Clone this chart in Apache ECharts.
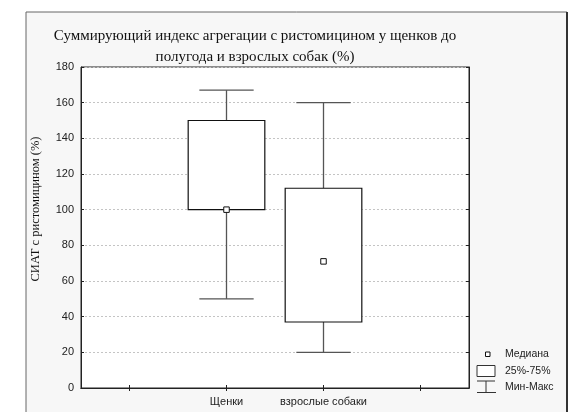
<!DOCTYPE html>
<html>
<head>
<meta charset="utf-8">
<script src="https://cdn.jsdelivr.net/npm/echarts@6/dist/echarts.min.js"></script>
<style>
  html, body { margin: 0; padding: 0; background: #fff; }
  #chart { width: 581px; height: 412px; }
</style>
</head>
<body>
<div id="chart"></div>
<script>
// категории оси X (крайние пустые — как в исходном графике)
const categories = ['', 'Щенки', 'взрослые собаки', '']
// [индекс категории, мин, 25%, медиана, 75%, макс]
const puppies = [1, 50, 100, 100, 150, 167]
const adults = [2, 20, 37, 71, 112, 160]
const yTicks = { min: 0, max: 180, step: 20 }

const chart = echarts.init(document.getElementById('chart'))

const serif = 'Liberation Serif, Times New Roman, serif'
const sans = 'Liberation Sans, Arial, sans-serif'

// рисуем ящик с усами
const renderBox = (params, api) => {
  const x = api.value(0)
  const band = api.size([1, 0])[0]
  const boxW = band * 0.79
  const capW = band * 0.56
  const pMin = api.coord([x, api.value(1)])
  const pQ1 = api.coord([x, api.value(2)])
  const pQ3 = api.coord([x, api.value(4)])
  const pMax = api.coord([x, api.value(5)])
  const cx = pMin[0]
  const whisker = { stroke: '#555', lineWidth: 1.3 }
  return {
    type: 'group',
    children: [
      { type: 'line', shape: { x1: cx, y1: pMax[1], x2: cx, y2: pQ3[1] }, style: whisker },
      { type: 'line', shape: { x1: cx, y1: pQ1[1], x2: cx, y2: pMin[1] }, style: whisker },
      { type: 'line', shape: { x1: cx - capW / 2, y1: pMax[1], x2: cx + capW / 2, y2: pMax[1] }, style: whisker },
      { type: 'line', shape: { x1: cx - capW / 2, y1: pMin[1], x2: cx + capW / 2, y2: pMin[1] }, style: whisker },
      {
        type: 'rect',
        shape: { x: cx - boxW / 2, y: pQ3[1], width: boxW, height: pQ1[1] - pQ3[1] },
        style: { fill: '#fff', stroke: '#111', lineWidth: 1.2 }
      }
    ]
  }
}

const tickStyle = { show: true, inside: true, length: 3, lineStyle: { color: '#222' } }

const option = {
  backgroundColor: '#fff',
  animation: false,
  title: {
    text: 'Суммирующий индекс агрегации с ристомицином у щенков до\nполугода и взрослых собак (%)',
    left: 250,
    top: 21,
    textAlign: 'center',
    textStyle: { fontFamily: serif, fontSize: 15, fontWeight: 'normal', color: '#111', lineHeight: 21 }
  },
  grid: {
    left: 81, right: 112, top: 67, bottom: 24,
    show: true, backgroundColor: '#fff', borderColor: '#222', borderWidth: 1
  },
  xAxis: [
    {
      type: 'category',
      data: categories,
      position: 'bottom',
      axisLine: { lineStyle: { color: '#222' } },
      axisTick: Object.assign({ alignWithLabel: true, interval: 0 }, tickStyle),
      axisLabel: { interval: 0, fontFamily: sans, fontSize: 11, color: '#222', margin: 8 },
      splitLine: { show: false }
    },
    {
      type: 'category',
      data: categories,
      position: 'top',
      axisLine: { lineStyle: { color: '#222' } },
      axisTick: Object.assign({ alignWithLabel: true, interval: 0 }, tickStyle),
      axisLabel: { show: false },
      splitLine: { show: false }
    }
  ],
  yAxis: [
    {
      type: 'value',
      min: yTicks.min,
      max: yTicks.max,
      interval: yTicks.step,
      axisLine: { show: true, lineStyle: { color: '#222' } },
      axisTick: tickStyle,
      axisLabel: { fontFamily: sans, fontSize: 11, color: '#222', margin: 7 },
      splitLine: { show: true, lineStyle: { color: '#c4c4c4', type: [2, 2], width: 1 } }
    },
    {
      type: 'value',
      min: yTicks.min,
      max: yTicks.max,
      interval: yTicks.step,
      position: 'right',
      axisLine: { show: true, lineStyle: { color: '#222' } },
      axisTick: tickStyle,
      axisLabel: { show: false },
      splitLine: { show: false }
    }
  ],
  series: [
    {
      name: '25%-75%',
      type: 'custom',
      renderItem: renderBox,
      encode: { x: 0, y: [1, 2, 3, 4, 5] },
      data: [puppies, adults],
      z: 3
    },
    {
      name: 'Медиана',
      type: 'scatter',
      symbol: 'rect',
      symbolSize: 5.5,
      itemStyle: { color: '#fff', borderColor: '#111', borderWidth: 1, opacity: 1 },
      data: [[puppies[0], puppies[3]], [adults[0], adults[3]]],
      z: 5
    }
  ],
  graphic: [
    {
      // внешняя рамка
      type: 'rect',
      z: -10,
      shape: { x: 26, y: 12, width: 541, height: 410 },
      style: { fill: '#f7f7f7', stroke: '#666', lineWidth: 1 }
    },
    {
      type: 'line', z: -9,
      shape: { x1: 567, y1: 12, x2: 567, y2: 412 },
      style: { stroke: '#333', lineWidth: 2 }
    },
    {
      type: 'text',
      x: 36, y: 209,
      rotation: Math.PI / 2,
      style: {
        text: 'СИАТ с ристомицином (%)',
        fontFamily: serif, fontSize: 12.5, fill: '#111',
        align: 'center', verticalAlign: 'middle'
      }
    },
    // легенда
    {
      type: 'rect',
      shape: { x: 485.5, y: 352, width: 4.5, height: 4.5 },
      style: { fill: '#fff', stroke: '#111', lineWidth: 1 }
    },
    {
      type: 'text', x: 505, y: 354,
      style: { text: 'Медиана', fontFamily: sans, fontSize: 10.5, fill: '#222', verticalAlign: 'middle' }
    },
    {
      type: 'rect',
      shape: { x: 477, y: 365.5, width: 18, height: 11 },
      style: { fill: '#fff', stroke: '#333', lineWidth: 1 }
    },
    {
      type: 'text', x: 505, y: 371.5,
      style: { text: '25%-75%', fontFamily: sans, fontSize: 10.5, fill: '#222', verticalAlign: 'middle' }
    },
    {
      type: 'line',
      shape: { x1: 477, y1: 381, x2: 495, y2: 381 },
      style: { stroke: '#333', lineWidth: 1 }
    },
    {
      type: 'line',
      shape: { x1: 486, y1: 381, x2: 486, y2: 392.5 },
      style: { stroke: '#333', lineWidth: 1 }
    },
    {
      type: 'line',
      shape: { x1: 477, y1: 392.5, x2: 496, y2: 392.5 },
      style: { stroke: '#333', lineWidth: 1 }
    },
    {
      type: 'text', x: 505, y: 387,
      style: { text: 'Мин-Макс', fontFamily: sans, fontSize: 10.5, fill: '#222', verticalAlign: 'middle' }
    }
  ]
}

chart.setOption(option)
</script>
</body>
</html>
